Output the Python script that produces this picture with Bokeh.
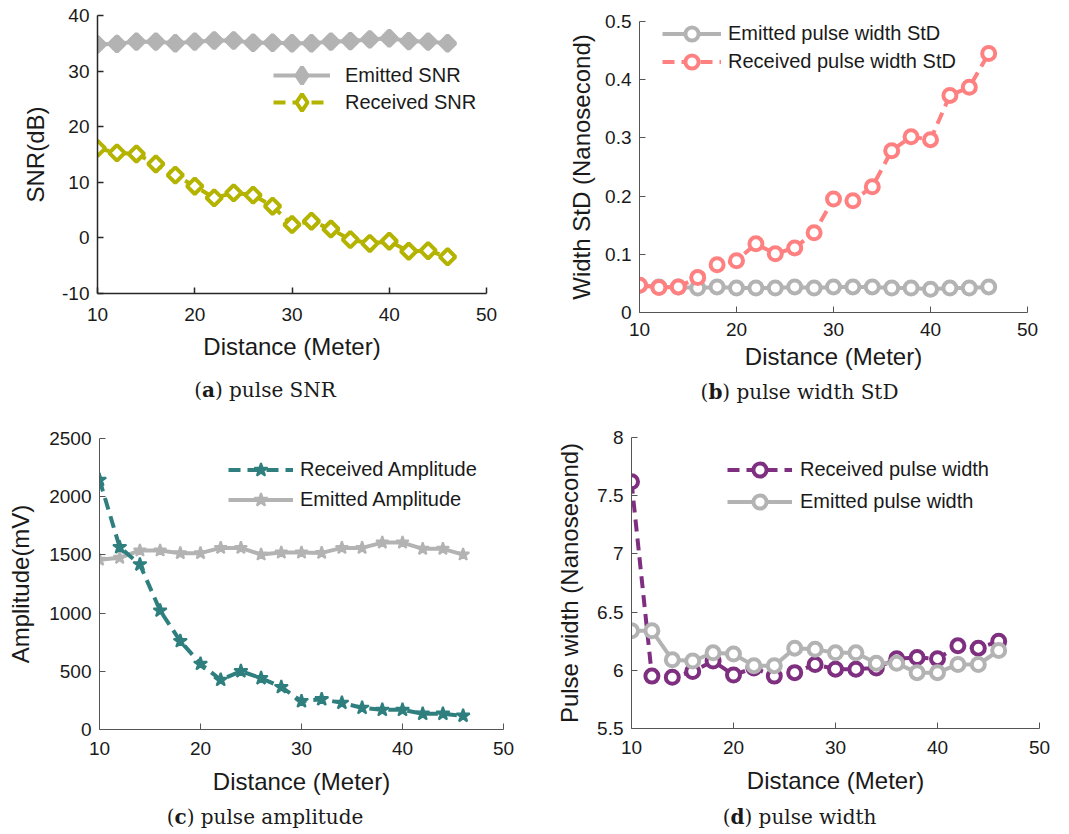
import math
from bokeh.plotting import figure
from bokeh.models import (Range1d, FixedTicker, CustomJSTickFormatter, Legend, LegendItem, Div)
from bokeh.layouts import column, row
from bokeh.embed import file_html
from bokeh.resources import INLINE

# ---------------- data ----------------
distance = [10, 12, 14, 16, 18, 20, 22, 24, 26, 28, 30, 32, 34, 36, 38, 40, 42, 44, 46]

emitted_snr = [34.8, 34.9, 35.3, 35.3, 35.0, 35.3, 35.5, 35.5, 35.1, 35.1, 35.0, 35.0, 35.3, 35.4, 35.7, 35.9, 35.4, 35.3, 35.0]
received_snr = [16.1, 15.3, 15.1, 13.3, 11.3, 9.3, 7.2, 8.1, 7.7, 5.7, 2.4, 3.0, 1.6, -0.3, -1.0, -0.6, -2.4, -2.3, -3.4]

emitted_std = [0.047, 0.044, 0.044, 0.042, 0.044, 0.042, 0.042, 0.042, 0.044, 0.042, 0.044, 0.044, 0.044, 0.042, 0.042, 0.040, 0.042, 0.042, 0.044]
received_std = [0.047, 0.043, 0.044, 0.060, 0.082, 0.089, 0.118, 0.101, 0.111, 0.137, 0.195, 0.192, 0.216, 0.278, 0.302, 0.297, 0.373, 0.387, 0.445]

received_amp = [2145, 1566, 1418, 1022, 759, 564, 427, 501, 441, 364, 243, 260, 229, 186, 169, 169, 135, 135, 118]
emitted_amp = [1458, 1475, 1538, 1538, 1515, 1515, 1560, 1560, 1503, 1520, 1520, 1517, 1560, 1560, 1606, 1606, 1552, 1552, 1503]

received_width = [7.62, 5.95, 5.94, 5.99, 6.08, 5.96, 6.02, 5.95, 5.98, 6.05, 6.01, 6.01, 6.02, 6.10, 6.11, 6.10, 6.21, 6.19, 6.25]
emitted_width = [6.34, 6.34, 6.09, 6.08, 6.15, 6.14, 6.04, 6.04, 6.19, 6.18, 6.15, 6.15, 6.06, 6.06, 5.98, 5.98, 6.05, 6.05, 6.17]

x_ticks = [10, 20, 30, 40, 50]
snr_ticks = [-10, 0, 10, 20, 30, 40]
std_ticks = [0, 0.1, 0.2, 0.3, 0.4, 0.5]
amp_ticks = [0, 500, 1000, 1500, 2000, 2500]
width_ticks = [5.5, 6, 6.5, 7, 7.5, 8]

GRAY = "#b3b3b3"
OLIVE = "#b3b300"
SALMON = "#ff8080"
TEAL = "#2f7f7f"
PURPLE = "#7f2f7f"
TXT = "#1a1a1a"
SANS = "Liberation Sans"
DASH = "12 7"
NAN = float("nan")

fmt = CustomJSTickFormatter(code="return String(Math.round(tick*100)/100);")


def make_fig(w, h, left, right, top, bottom, yr, yticks, ylabel, axis_color, axis_w,
             xstand, xlabstand, ystand, ylabstand):
    p = figure(width=w, height=h, min_border_left=left, min_border_right=right,
               min_border_top=top, min_border_bottom=bottom,
               x_range=Range1d(10, 50), y_range=Range1d(*yr),
               output_backend="svg", toolbar_location=None)
    p.outline_line_color = None
    p.grid.visible = False
    p.background_fill_color = "white"
    p.border_fill_color = "white"
    for ax in (p.xaxis[0], p.yaxis[0]):
        ax.major_tick_in = 6
        ax.major_tick_out = 0
        ax.minor_tick_line_color = None
        ax.axis_line_color = axis_color
        ax.axis_line_width = axis_w
        ax.major_tick_line_color = axis_color
        ax.major_tick_line_width = axis_w
        ax.major_label_text_font = SANS
        ax.major_label_text_font_size = "19px"
        ax.major_label_text_color = TXT
        ax.axis_label_text_font = SANS
        ax.axis_label_text_font_size = "24px"
        ax.axis_label_text_font_style = "normal"
        ax.axis_label_text_color = TXT
        ax.formatter = fmt
    p.xaxis[0].ticker = FixedTicker(ticks=x_ticks)
    p.yaxis[0].ticker = FixedTicker(ticks=yticks)
    p.xaxis[0].axis_label = "Distance (Meter)"
    p.yaxis[0].axis_label = ylabel
    p.xaxis[0].major_label_standoff = xstand
    p.xaxis[0].axis_label_standoff = xlabstand
    p.yaxis[0].major_label_standoff = ystand
    p.yaxis[0].axis_label_standoff = ylabstand
    return p


def add_legends(p, items, x, frame_h, first_center, row_h, glyph_w, glyph_h, standoff):
    """One single-entry legend per item, so the glyph box can be tall without spreading rows."""
    for i, item in enumerate(items):
        center = first_center + i * row_h          # px below the frame top
        bottom = frame_h - (center + glyph_h / 2)  # px above the frame bottom
        lg = Legend(items=[item], location=(x, int(round(bottom))), orientation="vertical")
        lg.background_fill_alpha = 0
        lg.border_line_alpha = 0
        lg.padding = 0
        lg.margin = 0
        lg.spacing = 0
        lg.glyph_width = glyph_w
        lg.glyph_height = glyph_h
        lg.label_height = glyph_h
        lg.label_standoff = standoff
        lg.label_text_font = SANS
        lg.label_text_font_size = "20px"
        lg.label_text_color = TXT
        p.add_layout(lg, "center")


# ---------------- (a) SNR ----------------
pa = make_fig(530, 370, 97, 44, 15, 77, (-10, 40), snr_ticks, "SNR(dB)", "#262626", 1.5,
              14, 9, 8, 10)
la1 = pa.line(distance, emitted_snr, line_color=GRAY, line_width=4)
sa1 = pa.scatter(distance, emitted_snr, marker="square", angle=math.pi / 4, size=11,
                 line_color=GRAY, fill_color=GRAY, line_width=4)
la2 = pa.line(distance, received_snr, line_color=OLIVE, line_width=4, line_dash=DASH)
sa2 = pa.scatter(distance, received_snr, marker="square", angle=math.pi / 4, size=11,
                 line_color=OLIVE, fill_color="white", line_width=4)
# legend-only diamond glyphs (the legend does not rotate markers); NaN => not drawn in the plot
ka1 = pa.scatter([NAN], [NAN], marker="diamond", size=17, line_color=GRAY, fill_color=GRAY, line_width=4)
ka2 = pa.scatter([NAN], [NAN], marker="diamond", size=17, line_color=OLIVE, fill_color="white", line_width=4)
add_legends(pa, [LegendItem(label="Emitted SNR", renderers=[la1, ka1]),
                 LegendItem(label="Received SNR", renderers=[la2, ka2])],
            176, 278, 60, 27, 57, 42, 15)

# ---------------- (b) width StD ----------------
pb = make_fig(539, 375, 109, 42, 21, 63, (0, 0.5), std_ticks, "Width StD (Nanosecond)", "#555555", 1,
              10, 4, 8, 7)
lb1 = pb.line(distance, emitted_std, line_color=GRAY, line_width=4)
sb1 = pb.scatter(distance, emitted_std, marker="circle", size=13, line_color=GRAY,
                 fill_color="white", line_width=4)
lb2 = pb.line(distance, received_std, line_color=SALMON, line_width=4, line_dash=DASH)
sb2 = pb.scatter(distance, received_std, marker="circle", size=13, line_color=SALMON,
                 fill_color="white", line_width=4)
add_legends(pb, [LegendItem(label="Emitted pulse width StD", renderers=[lb1, sb1]),
                 LegendItem(label="Received pulse width StD", renderers=[lb2, sb2])],
            23, 291, 12, 29, 59, 33, 7)

# ---------------- (c) amplitude ----------------
pc = make_fig(530, 390, 99, 27, 28, 71, (0, 2500), amp_ticks, "Amplitude(mV)", "#555555", 1,
              12, 10, 8, 12)
lc2 = pc.line(distance, emitted_amp, line_color=GRAY, line_width=4)
sc2 = pc.scatter(distance, emitted_amp, marker="star", size=13, line_color=GRAY,
                 fill_color=GRAY, line_width=2)
lc1 = pc.line(distance, received_amp, line_color=TEAL, line_width=4, line_dash=DASH)
sc1 = pc.scatter(distance, received_amp, marker="star", size=14, line_color=TEAL,
                 fill_color=TEAL, line_width=2)
add_legends(pc, [LegendItem(label="Received Amplitude", renderers=[lc1, sc1]),
                 LegendItem(label="Emitted Amplitude", renderers=[lc2, sc2])],
            129, 291, 32, 30, 65, 35, 7)

# ---------------- (d) pulse width ----------------
pd_ = make_fig(539, 390, 101, 30, 27, 72, (5.5, 8), width_ticks, "Pulse width (Nanosecond)", "#555555", 1,
               12, 10, 8, 11)
ld1 = pd_.line(distance, received_width, line_color=PURPLE, line_width=4, line_dash=DASH)
sd1 = pd_.scatter(distance, received_width, marker="circle", size=13, line_color=PURPLE,
                  fill_color="white", line_width=4)
ld2 = pd_.line(distance, emitted_width, line_color=GRAY, line_width=4)
sd2 = pd_.scatter(distance, emitted_width, marker="circle", size=13, line_color=GRAY,
                  fill_color="white", line_width=4)
add_legends(pd_, [LegendItem(label="Received pulse width", renderers=[ld1, sd1]),
                  LegendItem(label="Emitted pulse width", renderers=[ld2, sd2])],
            96, 291, 32, 32, 65, 33, 8)


def caption(letter, text, w, h):
    style = {"font-family": "DejaVu Serif", "font-size": "20px", "color": "#1a1a1a",
             "text-align": "center", "line-height": f"{h}px", "width": f"{w}px"}
    return Div(text=f"(<b>{letter}</b>) {text}", width=w, height=h, margin=0, styles=style)


layout = column(
    row(column(pa, caption("a", "pulse SNR", 530, 40)),
        column(pb, caption("b", "pulse width StD", 539, 35))),
    row(column(pc, caption("c", "pulse amplitude", 530, 34)),
        column(pd_, caption("d", "pulse width", 539, 34))),
)

open("out.html", "w").write(file_html(layout, INLINE))
